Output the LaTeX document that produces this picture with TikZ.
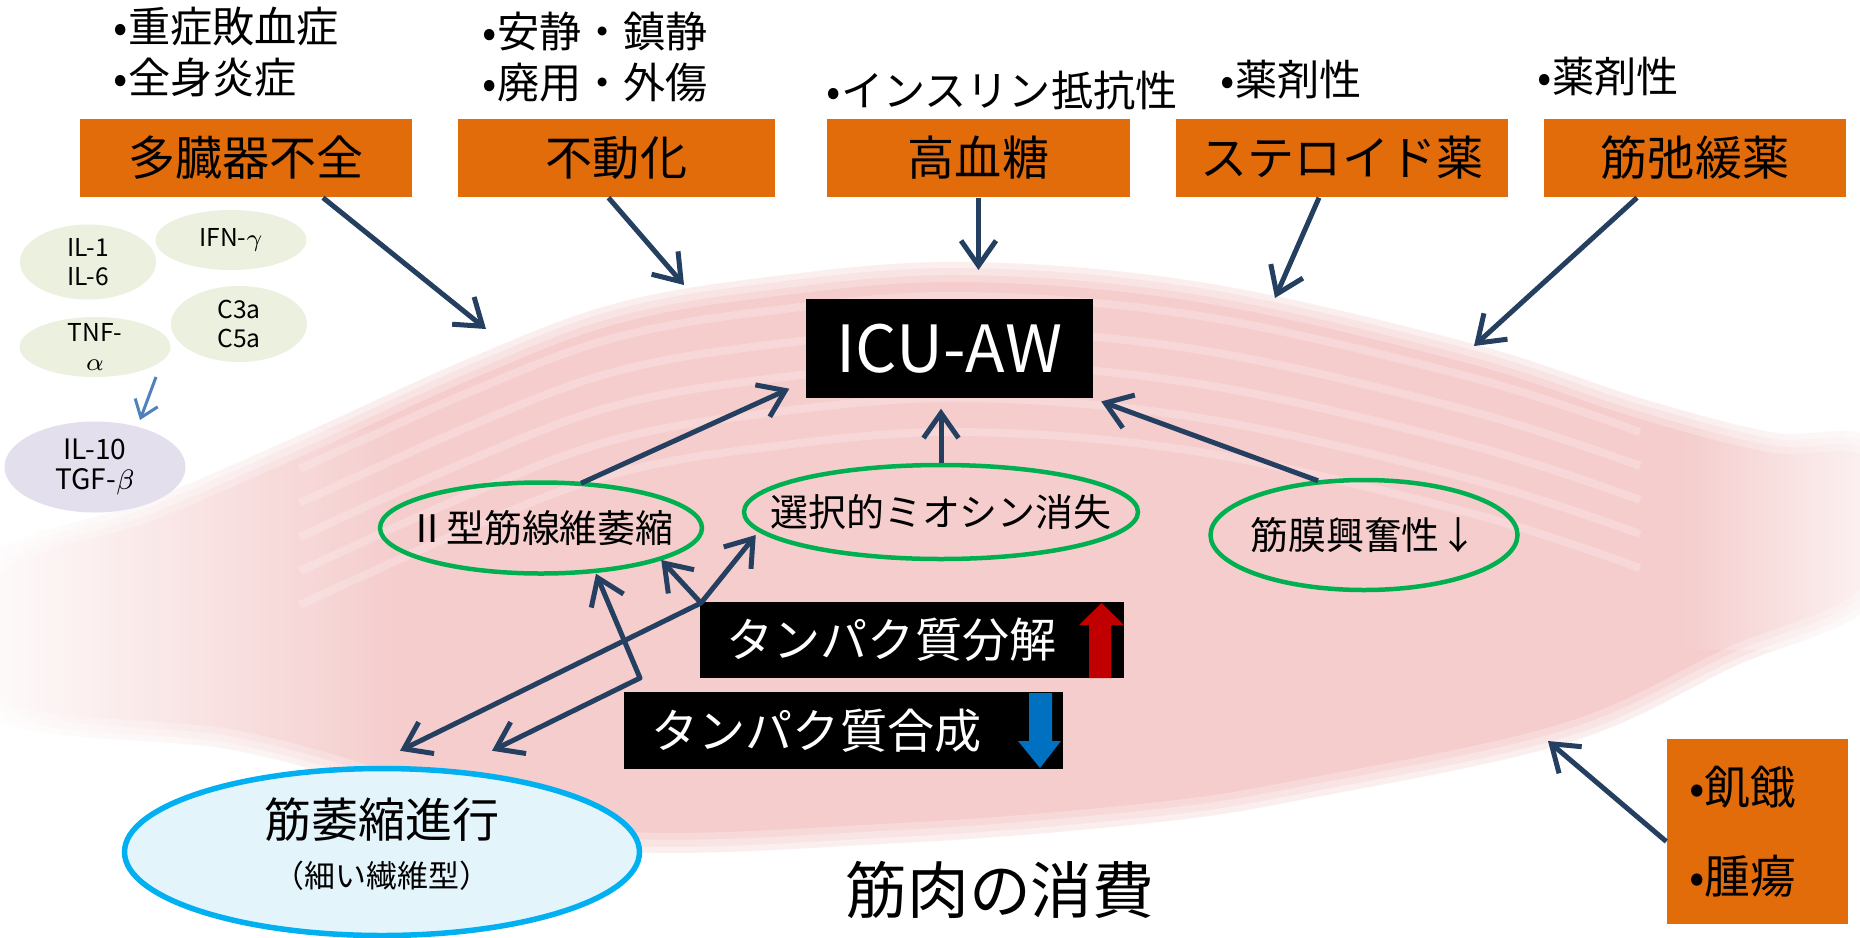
\documentclass[tikz,border=0pt]{standalone}
\usepackage{fontspec}
\setmainfont{Noto Sans CJK JP}
\usetikzlibrary{arrows.meta,shapes.geometric,calc,fadings}

\definecolor{cause}{HTML}{E36C0A}
\definecolor{navy}{HTML}{243F60}
\definecolor{musclepink}{HTML}{F5CDCD}
\definecolor{effgreen}{HTML}{00B050}
\definecolor{atrocyan}{HTML}{00B0F0}
\definecolor{atrofill}{HTML}{E4F4FB}
\definecolor{cytogreen}{HTML}{EBF1DE}
\definecolor{cytopurple}{HTML}{E4DFEC}
\definecolor{cytoblue}{HTML}{4F81BD}
\definecolor{uparrow}{HTML}{C00000}
\definecolor{downarrow}{HTML}{0070C0}

\tikzset{
  causebox/.style={fill=cause, minimum height=7.8mm, inner sep=0pt, font=\fontsize{13.4}{16}\selectfont},
  note/.style={anchor=west, inner sep=0pt, align=left, font=\fontsize{12}{14.6}\selectfont},
  effect/.style={ellipse, draw=effgreen, line width=0.45mm, inner sep=0pt},
  efftext/.style={inner sep=0pt, font=\fontsize{10.8}{13}\selectfont},
  cyto/.style={ellipse, fill=cytogreen, inner sep=0pt},
  cytotext/.style={inner sep=0pt, align=center, font=\fontsize{7}{8.2}\selectfont},
  blackbox/.style={fill=black, inner sep=0pt},
  boxtext/.style={anchor=west, inner sep=0pt, text=white, font=\fontsize{13.4}{16}\selectfont},
  arr/.style={draw=navy, line width=0.5mm, -{Straight Barb[length=2.5mm,width=3.5mm]}},
  biarr/.style={draw=navy, line width=0.5mm, line join=round, {Straight Barb[length=2.5mm,width=3.5mm]}-{Straight Barb[length=2.5mm,width=3.5mm]}},
}

\begin{document}
\begin{tikzpicture}[x=0.1mm, y=-0.1mm]

\useasboundingbox (0,0) rectangle (1860,937);
\fill[white] (0,0) rectangle (1860,937);

%muscle
\path[save path=\musclepath] plot[smooth cycle, tension=0.6] coordinates {
  (-20,565) (150,500) (300,435) (470,358) (610,305) (760,278) (960,262)
  (1200,282) (1470,343) (1640,398) (1770,432) (1880,445)
  (1880,595) (1733,667) (1567,743) (1300,800) (1150,823) (900,843)
  (600,850) (400,795) (233,750) (-20,713)};
\fill[musclepink, use path=\musclepath];
\foreach \w/\o in {4/0.25, 2.6/0.3, 1.2/0.4}
  \draw[white, line width=\w mm, opacity=\o, use path=\musclepath];
\begin{scope}
  \clip[use path=\musclepath];
  \foreach \k in {1,...,5}
    \draw[white, opacity=0.22, line width=0.8mm, yshift=-\k*3.4mm]
      plot[smooth, tension=0.6] coordinates {(300,435) (470,358) (610,305)
        (760,278) (960,262) (1200,282) (1470,343) (1640,398)};
\end{scope}
\fill[white, path fading=east, opacity=0.9] (0,430) rectangle (400,830);
\fill[white, path fading=west, opacity=0.7] (1680,400) rectangle (1860,650);

%causes
\node[causebox, minimum width=33.2mm] (mof) at (246,158) {多臓器不全};
\node[causebox, minimum width=31.7mm] (immob) at (616.5,158) {不動化};
\node[causebox, minimum width=30.3mm] (hyper) at (978.5,158) {高血糖};
\node[causebox, minimum width=33.2mm] (ster) at (1342,158) {ステロイド薬};
\node[causebox, minimum width=30.2mm] (nmb) at (1695,158) {筋弛緩薬};

\node[note] (sepsis) at (113,52) {•重症敗血症\\•全身炎症};
\node[note] (rest) at (482,57) {•安静・鎮静\\•廃用・外傷};
\node[note] (insulin) at (826,90) {•インスリン抵抗性};
\node[note] (drugA) at (1220,80) {•薬剤性};
\node[note] (drugB) at (1537,77) {•薬剤性};

%cytokines
\node[cyto, minimum width=13.6mm, minimum height=7.5mm] (il16) at (88,262) {};
\node[cytotext] (il16t) at (il16) {IL-1\\IL-6};
\node[cyto, minimum width=15.1mm, minimum height=6mm] (ifn) at (231,240) {};
\node[cytotext] (ifnt) at (ifn) {IFN-$\gamma$};
\node[cyto, minimum width=15.1mm, minimum height=6mm] (tnf) at (95,347) {};
\node[cytotext] (tnft) at (tnf) {TNF-\\$\alpha$};
\node[cyto, minimum width=13.6mm, minimum height=7.6mm] (c35) at (239,324) {};
\node[cytotext] (c35t) at (c35) {C3a\\C5a};
\node[cyto, fill=cytopurple, minimum width=18.1mm, minimum height=9.1mm] (il10) at (95,467) {};
\node[cytotext, font=\fontsize{8}{8.5}\selectfont] (il10t) at (il10) {IL-10\\TGF-$\beta$};
\coordinate (cytA) at (156,377);
\coordinate (cytB) at (140,420);
\draw[cytoblue, line width=0.3mm, -{Straight Barb[length=1.6mm,width=2.4mm]}] (cytA) -- (cytB);

%ICU-AW
\node[blackbox, minimum width=28.7mm, minimum height=9.9mm, text=white,
  font=\fontsize{18.5}{20}\selectfont] (icu) at (949.5,348.5) {ICU-AW};

\node[effect, minimum width=32.2mm, minimum height=9.1mm] (type2) at (541,528) {};
\node[efftext] (type2t) at (type2) {Ⅱ型筋線維萎縮};
\node[effect, minimum width=39.4mm, minimum height=9.4mm] (myosin) at (941,512) {};
\node[efftext] (myosint) at (myosin) {選択的ミオシン消失};
\node[effect, minimum width=30.7mm, minimum height=11mm] (membrane) at (1364,535) {};
\node[efftext] (membranet) at (membrane) {筋膜興奮性↓};

%atrophy
\node[ellipse, draw=atrocyan, fill=atrofill, line width=0.55mm, inner sep=0pt,
  minimum width=51.5mm, minimum height=16.7mm] (atrophy) at (382,852) {};
\node[align=center, inner sep=0pt, font=\fontsize{13.4}{14.2}\selectfont] (atrophyt) at (382,844)
  {筋萎縮進行\\{\fontsize{8.8}{14.2}\selectfont （細い繊維型）}};

%protein
\node[blackbox, minimum width=42.4mm, minimum height=7.6mm] (breakdown) at (912,640) {};
\node[boxtext] (breakdownt) at (726,640) {タンパク質分解};
\fill[uparrow] (1089,678) -- (1111,678) -- (1111,625) -- (1124,625) -- (1101.5,603) -- (1079,625) -- (1089,625) -- cycle;
\node[blackbox, minimum width=43.9mm, minimum height=7.7mm] (synthesis) at (843.5,730.5) {};
\node[boxtext] (synthesist) at (651,730.5) {タンパク質合成};
\fill[downarrow] (1029,693) -- (1052,693) -- (1052,741) -- (1061,741) -- (1040,768) -- (1018,741) -- (1029,741) -- cycle;

\node[causebox, minimum width=18.1mm, minimum height=18.5mm, text width=13.7mm, inner xsep=2.2mm,
  align=left, font=\fontsize{13}{25.3}\selectfont] (starve) at (1757.5,831.5) {•飢餓\\•腫瘍};

\node[font=\fontsize{17.6}{20}\selectfont, inner sep=0pt] (wasting) at (1000,890) {筋肉の消費};

%arrows from causes
\coordinate (mofend) at (486,329);
\coordinate (immobend) at (684,285);
\coordinate (hyperend) at (978.5,270);
\coordinate (sterend) at (1275,298);
\coordinate (nmbend) at (1474,346);
\coordinate (starveend) at (1548,741);
\draw[arr] ($(mof.south)+(77,0)$) -- (mofend);
\draw[arr] ($(immob.south)+(-8,0)$) -- (immobend);
\draw[arr] (hyper.south) -- (hyperend);
\draw[arr] ($(ster.south)+(-23,0)$) -- (sterend);
\draw[arr] ($(nmb.south)+(-58,0)$) -- (nmbend);
\draw[arr] ($(starve.west)+(0,10)$) -- (starveend);

%arrows to ICU-AW
\draw[arr] ($(type2.north)+(40,3)$) -- ($(icu.south west)+(-16,-10)$);
\draw[arr, shorten >=1mm] (myosin.north) -- (myosin.north |- icu.south);
\draw[arr, shorten >=0.8mm] ($(membrane.north)+(-46,3)$) -- (icu.south east);

%atrophy links
\coordinate (jA) at (701,603);
\coordinate (jB) at (640,678);
\draw[biarr] ($(atrophy.north)+(18,-15)$) -- (jA) -- ($(myosin.west)+(14,23)$);
\draw[arr] (jA) -- ($(type2.east)+(-43,32)$);
\draw[biarr] ($(atrophy.north)+(110,-15)$) -- (jB) -- ($(type2.south)+(55,-2)$);

\end{tikzpicture}
\end{document}
